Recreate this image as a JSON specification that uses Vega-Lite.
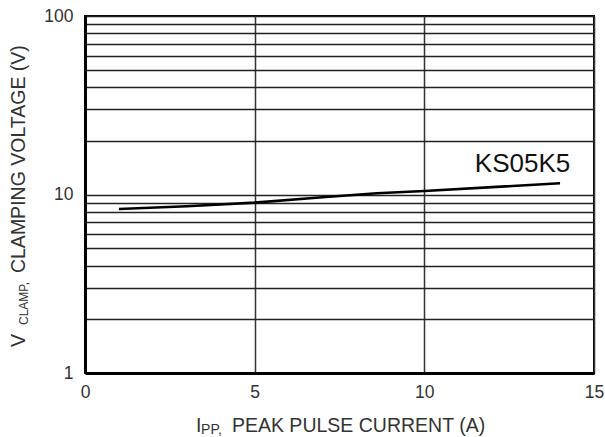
{
  "$schema": "https://vega.github.io/schema/vega-lite/v6.json",
  "width": 509,
  "height": 357,
  "autosize": {"type": "none"},
  "padding": {"left": 85, "top": 16, "right": 11, "bottom": 64},
  "background": "white",
  "config": {
    "view": {"stroke": "#000", "strokeWidth": 2},
    "font": "Liberation Sans"
  },
  "layer": [
    {
      "data": {"values": [
        {"I": 1, "V": 8.3},
        {"I": 3, "V": 8.6},
        {"I": 5, "V": 9.0},
        {"I": 7, "V": 9.65},
        {"I": 8.6, "V": 10.16},
        {"I": 10, "V": 10.46},
        {"I": 12, "V": 11.0},
        {"I": 14, "V": 11.56}
      ]},
      "mark": {"type": "line", "color": "#000", "strokeWidth": 2.6},
      "encoding": {
        "x": {
          "field": "I", "type": "quantitative",
          "scale": {"domain": [0, 15], "nice": false, "zero": false},
          "axis": {
            "values": [0, 5, 10, 15], "title": null, "ticks": false, "tickSize": 0,
            "labelPadding": 10, "labelFontSize": 17.5, "labelColor": "#333", "labelFont": "Liberation Sans",
            "grid": true, "gridColor": "#333", "gridWidth": 1.5, "gridOpacity": 1,
            "domainColor": "#000", "domainWidth": 3, "labelFlush": false
          }
        },
        "y": {
          "field": "V", "type": "quantitative",
          "scale": {"type": "log", "domain": [1, 100], "nice": false},
          "axis": {
            "values": [1, 2, 3, 4, 5, 6, 7, 8, 9, 10, 20, 30, 40, 50, 60, 70, 80, 90, 100],
            "labelExpr": "datum.value == 1 || datum.value == 10 || datum.value == 100 ? format(datum.value, 'd') : ''",
            "title": null, "ticks": false, "tickSize": 0,
            "labelPadding": 12, "labelFontSize": 17.5, "labelColor": "#333", "labelFont": "Liberation Sans",
            "grid": true, "gridColor": "#222", "gridWidth": 1.4, "gridOpacity": 1,
            "domainColor": "#000", "domainWidth": 3, "labelFlush": false
          }
        }
      }
    },
    {
      "data": {"values": [{"label": "KS05K5"}]},
      "mark": {"type": "text", "align": "right", "baseline": "alphabetic", "fontSize": 26, "fill": "#111", "font": "Liberation Sans"},
      "encoding": {"x": {"datum": 14.3}, "y": {"datum": 13.4}, "text": {"field": "label"}}
    },
    {
      "data": {"values": [{"label": "I"}]},
      "mark": {"type": "text", "align": "left", "baseline": "alphabetic", "fontSize": 19.5, "fill": "#333", "font": "Liberation Sans"},
      "encoding": {"x": {"datum": 3.27}, "y": {"datum": 0.467}, "text": {"field": "label"}}
    },
    {
      "data": {"values": [{"label": "PP,"}]},
      "mark": {"type": "text", "align": "left", "baseline": "alphabetic", "fontSize": 14, "fill": "#333", "font": "Liberation Sans"},
      "encoding": {"x": {"datum": 3.42}, "y": {"datum": 0.455}, "text": {"field": "label"}}
    },
    {
      "data": {"values": [{"label": "PEAK PULSE CURRENT (A)"}]},
      "mark": {"type": "text", "align": "left", "baseline": "alphabetic", "fontSize": 19.5, "fill": "#333", "font": "Liberation Sans"},
      "encoding": {"x": {"datum": 4.33}, "y": {"datum": 0.467}, "text": {"field": "label"}}
    },
    {
      "data": {"values": [{"label": "V"}]},
      "mark": {"type": "text", "align": "left", "baseline": "alphabetic", "angle": 270, "fontSize": 19.5, "fill": "#333", "font": "Liberation Sans"},
      "encoding": {"x": {"datum": -1.768}, "y": {"datum": 1.398}, "text": {"field": "label"}}
    },
    {
      "data": {"values": [{"label": "CLAMP,"}]},
      "mark": {"type": "text", "align": "left", "baseline": "alphabetic", "angle": 270, "fontSize": 12, "fill": "#333", "font": "Liberation Sans"},
      "encoding": {"x": {"datum": -1.69}, "y": {"datum": 1.857}, "text": {"field": "label"}}
    },
    {
      "data": {"values": [{"label": "CLAMPING VOLTAGE (V)"}]},
      "mark": {"type": "text", "align": "left", "baseline": "alphabetic", "angle": 270, "fontSize": 19.5, "fill": "#333", "font": "Liberation Sans"},
      "encoding": {"x": {"datum": -1.768}, "y": {"datum": 3.63}, "text": {"field": "label"}}
    }
  ]
}
